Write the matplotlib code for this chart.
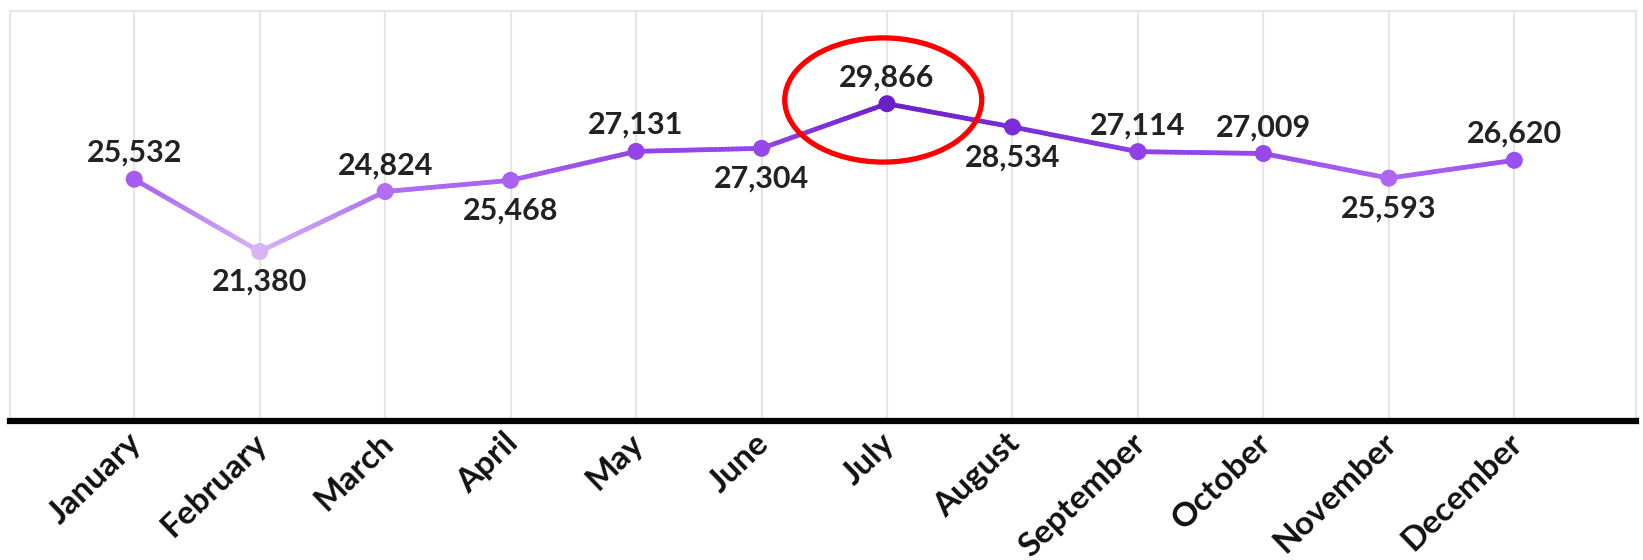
import numpy as np
import matplotlib
matplotlib.use("Agg")
import matplotlib.pyplot as plt
import matplotlib.transforms as mtransforms
from matplotlib.collections import LineCollection
from matplotlib.colors import to_rgb
from matplotlib.patches import Ellipse

# Monthly values
months = ["January", "February", "March", "April", "May", "June",
          "July", "August", "September", "October", "November", "December"]
values = [25532, 21380, 24824, 25468, 27131, 27304,
          29866, 28534, 27114, 27009, 25593, 26620]
# which labels sit below their point
below = [False, True, False, True, False, True,
         False, True, False, False, True, False]

# point colours, light to dark purple (darkest at the peak)
point_colors = ["#a55bf0", "#d8b4f6", "#b06ef2", "#a862f0", "#9444e6", "#9547e8",
                "#6b1fc9", "#7a2dd6", "#9040e6", "#9848ea", "#ad66f2", "#9c50ee"]

plt.rcParams['font.family'] = ['Lato', 'DejaVu Sans']

fig = plt.figure(figsize=(16.43, 5.6), dpi=100)
ax = fig.add_axes([10 / 1643, 1 - 421 / 560, 1626 / 1643, 410 / 560])

x = np.arange(len(months))
y = np.array(values, dtype=float)

# gradient line: split each segment into small pieces with blended colours
segs, cols = [], []
steps = 30
for i in range(len(x) - 1):
    c0, c1 = np.array(to_rgb(point_colors[i])), np.array(to_rgb(point_colors[i + 1]))
    for k in range(steps):
        t0, t1 = k / steps, (k + 1) / steps
        segs.append([(x[i] + (x[i + 1] - x[i]) * t0, y[i] + (y[i + 1] - y[i]) * t0),
                     (x[i] + (x[i + 1] - x[i]) * t1, y[i] + (y[i + 1] - y[i]) * t1)])
        cols.append(c0 + (c1 - c0) * (t0 + t1) / 2)
lc = LineCollection(segs, colors=cols, linewidths=3.4, capstyle='round', zorder=3)
ax.add_collection(lc)
ax.scatter(x, y, s=150, c=point_colors, zorder=4, linewidths=0)

# value labels
for xi, yi, b in zip(x, y, below):
    ax.annotate(f"{int(yi):,}", (xi, yi), xytext=(0, -22 if b else 19),
                textcoords='offset points', ha='center', va='center',
                fontsize=22, color='#222222', fontweight='bold')

# red circle around the peak
peak = int(np.argmax(y))
ax.add_patch(Ellipse((x[peak] - 0.03, y[peak] + 215), width=1.57, height=7130,
                     fill=False, edgecolor='#ff0000', linewidth=3.8, zorder=5))

ax.set_xlim(-0.99, 11.97)
ax.set_ylim(11650, 35190)
ax.set_yticks([])
ax.set_xticks(x)
ax.set_xticklabels(months, rotation=44, ha='right', rotation_mode='anchor',
                   fontsize=24, color='#111111', fontweight='bold')
ax.tick_params(axis='x', length=0, pad=5)
# nudge rotated labels so their top end sits under the tick
shift = mtransforms.ScaledTranslation(-7 / 100, 0, fig.dpi_scale_trans)
for lbl in ax.get_xticklabels():
    lbl.set_transform(lbl.get_transform() + shift)
ax.grid(axis='x', color='#e6e6e6', linewidth=1.6, zorder=0)
ax.set_axisbelow(True)

for side in ['left', 'top', 'right']:
    ax.spines[side].set_color('#e6e6e6')
    ax.spines[side].set_linewidth(1.5)
ax.spines['bottom'].set_color('black')
ax.spines['bottom'].set_linewidth(4.5)

fig.savefig("out.png", dpi=100)
